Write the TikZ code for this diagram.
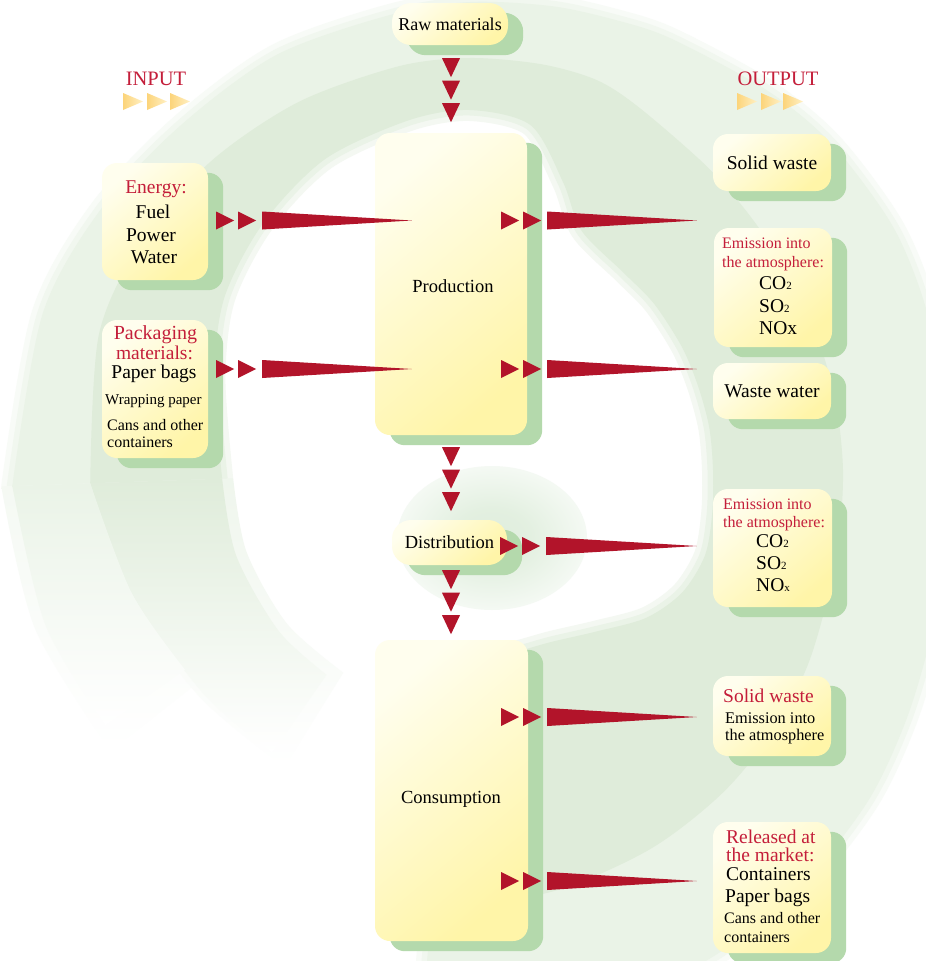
\documentclass[tikz,border=0pt]{standalone}
\usepackage{fontspec}
\setmainfont{Liberation Serif}
\usetikzlibrary{calc}
\definecolor{laneI}{RGB}{223,236,218}
\definecolor{laneO}{RGB}{234,243,231}
\definecolor{sgreen}{RGB}{180,217,172}
\definecolor{ylight}{RGB}{255,254,238}
\definecolor{ydark}{RGB}{255,245,168}
\definecolor{ared}{RGB}{178,20,42}
\definecolor{tred}{RGB}{196,30,58}
\definecolor{triA}{RGB}{252,212,122}
\definecolor{triB}{RGB}{255,240,196}
\pgfdeclarelayer{bg}
\pgfdeclarelayer{shad}
\pgfsetlayers{bg,shad,main}
\pgfdeclareradialshading{blob}{\pgfpoint{0bp}{0bp}}{rgb(0bp)=(0.875,0.93,0.865); rgb(10bp)=(0.89,0.94,0.88); rgb(34bp)=(1,1,1); rgb(50bp)=(1,1,1)}
\newcommand\shadowbox[2]{\begin{pgfonlayer}{shad}\fill[sgreen, rounded corners=#2] ([shift={(15,10)}]#1.south west) rectangle ([shift={(15,10)}]#1.north east);\end{pgfonlayer}}
\newcommand\redflow[2]{%
  \fill[ared] (#1) ++(0,-9) -- ++(18,9) -- ++(-18,9) -- cycle;
  \fill[ared] ([xshift=22pt]#1) ++(0,-9) -- ++(18,9) -- ++(-18,9) -- cycle;
  \fill[ared] ([shift={(46,-9)}]#1) -- (#2) -- ([shift={(46,9)}]#1) -- cycle;}
\newcommand\downtri[1]{%
  \foreach \k in {0,22.5,45} {\fill[ared] ([shift={(-9,\k)}]#1) -- ++(18,0) -- ++(-9,19) -- cycle;}}
\begin{document}
\begin{tikzpicture}[x=1pt,y=-1pt,
  box/.style={rectangle, rounded corners=15pt, inner sep=0pt, top color=ylight, bottom color=ydark, shading angle=40},
  pill/.style={box, rounded corners=19pt},
  tb/.style={inner sep=0pt, anchor=base, font=\fontsize{19.5}{23}\selectfont},
  tbw/.style={tb, anchor=base west},
  ts/.style={inner sep=0pt, anchor=base, font=\fontsize{16}{18}\selectfont},
  tsw/.style={ts, anchor=base west},
  tm/.style={inner sep=0pt, anchor=base, font=\fontsize{18.5}{22}\selectfont},
  rt/.style={text=tred},
  laneOpath/.style={insert path={plot[smooth] coordinates {(-182:380) (-160:395) (-145:400) (-130:403) (-115:406) (-100:410) (-90:412) (-80:412) (-72:410) (-65:400) (-52:385) (-42:378) (-30:375) (-20:372) (-10:372) (0:373) (10:375) (20:380) (30:390) (40:400) (52:410) (65:420) (80:430) (95:430)}
  -- plot[smooth] coordinates {(95:550) (80:550) (65:545) (52:532) (40:518) (30:503) (20:490) (10:480) (0:475) (-10:478) (-20:484) (-30:488) (-42:487) (-52:482) (-65:476) (-72:473) (-80:471) (-90:468) (-100:462) (-115:458) (-130:450) (-145:452) (-160:455) (-182:458)} -- cycle}},
  laneIpath/.style={insert path={plot[smooth] coordinates {(-182:248) (-160:272) (-145:300) (-130:322) (-115:343) (-100:355) (-90:360) (-80:350) (-72:302) (-65:264) (-52:250) (-42:248) (-30:245) (-20:243) (-10:243) (0:243) (10:246) (20:250) (30:245) (40:230) (52:205) (65:190) (80:188) (95:192)}
  -- plot[smooth] coordinates {(95:430) (80:430) (65:420) (52:410) (40:400) (30:390) (20:380) (10:375) (0:373) (-10:372) (-20:372) (-30:375) (-42:378) (-52:385) (-65:400) (-72:410) (-80:412) (-90:412) (-100:410) (-115:406) (-130:403) (-145:400) (-160:395) (-182:380)} -- cycle}}]
\useasboundingbox (0,0) rectangle (926,961);
% ---------- background spiral ----------
\begin{pgfonlayer}{bg}
\fill[white] (0,0) rectangle (926,961);
\begin{scope}
\clip (0,0) rectangle (926,961);
\begin{scope}
\clip (0,0) rectangle (926,488) (330,0) rectangle (926,961);
\begin{scope}[shift={(470,470)}]
% soft halos
\draw[laneO!35!white, line width=22pt, line join=round] [laneOpath];
\draw[laneO!65!white, line width=11pt, line join=round] [laneOpath];
\draw[laneI!35!white, line width=22pt, line join=round] [laneIpath];
\draw[laneI!65!white, line width=11pt, line join=round] [laneIpath];
\end{scope}
\end{scope}
\begin{scope}[shift={(470,470)}]
% soft halos of the fading tails
\shade[top color=laneO!50!white, bottom color=white] plot[smooth] coordinates {(-182:375) (-200:355) (-218:343)}
  -- plot[smooth] coordinates {(-218:456) (-200:463) (-182:469)} -- cycle;
\shade[top color=laneI!50!white, middle color=laneI!25!white, bottom color=white] plot[smooth] coordinates {(-182:237) (-200:238) (-220:239) (-238:239)}
  -- plot[smooth] coordinates {(-238:350) (-220:353) (-200:365) (-182:385)} -- cycle;
% lanes
\fill[laneO] [laneOpath];
\fill[laneI] [laneIpath];
% fading tails at lower left
\shade[top color=laneI, middle color=laneI!50!white, bottom color=white] plot[smooth] coordinates {(-182:248) (-200:249) (-220:250) (-235:250)}
  -- plot[smooth] coordinates {(-235:345) (-220:348) (-200:360) (-182:380)} -- cycle;
\shade[top color=laneO, bottom color=white] plot[smooth] coordinates {(-182:380) (-200:360) (-215:348)}
  -- plot[smooth] coordinates {(-215:445) (-200:452) (-182:458)} -- cycle;
\end{scope}
\shade[shading=blob] (492,538) ellipse [x radius=95, y radius=72];
\end{scope}
\end{pgfonlayer}
% ---------- boxes ----------
\node[pill, minimum width=116pt, minimum height=42pt, font=\fontsize{18}{21}\selectfont] (raw) at (450,24) {Raw materials};
\node[box, minimum width=152pt, minimum height=302pt] (prod) at (451,284) {};
\node[box, minimum width=106pt, minimum height=117pt] (energy) at (155,221.5) {};
\node[box, minimum width=106pt, minimum height=138pt] (pack) at (155,389) {};
\node[pill, minimum width=115pt, minimum height=45pt, font=\fontsize{18.5}{22}\selectfont] (dist) at (449.5,542.5) {Distribution};
\node[box, minimum width=153pt, minimum height=301pt] (cons) at (451.5,790.5) {};
\node[box, minimum width=118pt, minimum height=57pt, font=\fontsize{19.5}{23}\selectfont] (sw1) at (772,162.5) {Solid waste};
\node[box, minimum width=118pt, minimum height=119pt] (em1) at (773,287.5) {};
\node[box, minimum width=118pt, minimum height=56pt, font=\fontsize{19.5}{23}\selectfont] (ww) at (772,391) {Waste water};
\node[box, minimum width=119pt, minimum height=118pt] (em2) at (772.5,548) {};
\node[box, minimum width=118pt, minimum height=80pt] (sw2) at (772,716) {};
\node[box, minimum width=118pt, minimum height=131pt] (rel) at (772,887.5) {};
\shadowbox{raw}{19pt}
\shadowbox{dist}{19pt}
\foreach \n in {prod,energy,pack,cons,sw1,em1,ww,em2,sw2,rel} {\shadowbox{\n}{15pt}}
% ---------- headings ----------
\node[tb, rt, font=\fontsize{20.5}{24}\selectfont] (inL) at (156,85) {INPUT};
\node[tb, rt, font=\fontsize{20.5}{24}\selectfont] (outL) at (778,85) {OUTPUT};
\coordinate (inTri) at (123,93);
\coordinate (outTri) at (737,93);
\foreach \k in {0,24,47} {\shade[left color=triA, right color=triB] ([shift={(\k,0)}]inTri) -- ++(20,8.5) -- ++(-20,8.5) -- cycle;}
\foreach \k in {0,24,46} {\shade[left color=triA, right color=triB] ([shift={(\k,0)}]outTri) -- ++(20,8.5) -- ++(-20,8.5) -- cycle;}
% ---------- texts ----------
\node[tm] (prodT) at (453,292) {Production};
\node[tm] (consT) at (451,803) {Consumption};
\node[tb, rt] (enT1) at (156,193) {Energy:};
\node[tb] (enT2) at (153,218) {Fuel};
\node[tb] (enT3) at (151,241) {Power};
\node[tb] (enT4) at (154,263) {Water};
\node[tb, rt, font=\fontsize{20}{23}\selectfont] (paT1) at (155.5,339.5) {Packaging};
\node[tb, rt] (paT2) at (154.5,359) {materials:};
\node[tb] (paT3) at (154,378.5) {Paper bags};
\node[tsw, font=\fontsize{15}{18}\selectfont] (paT4) at (105,404) {Wrapping paper};
\node[tsw] (paT5) at (107,430) {Cans and other};
\node[tsw] (paT6) at (107,447) {containers};
\node[tsw, rt] (e1T1) at (722,248) {Emission into};
\node[tsw, rt] (e1T2) at (722,267) {the atmosphere:};
\node[tbw] (e1T3) at (759,289) {CO\raisebox{-0.5pt}{\fontsize{11}{11}\selectfont 2}};
\node[tbw] (e1T4) at (759,312) {SO\raisebox{-0.5pt}{\fontsize{11}{11}\selectfont 2}};
\node[tbw] (e1T5) at (759,334) {NOx};
\node[tsw, rt] (e2T1) at (723,509) {Emission into};
\node[tsw, rt] (e2T2) at (723,527) {the atmosphere:};
\node[tbw] (e2T3) at (756,547) {CO\raisebox{-0.5pt}{\fontsize{11}{11}\selectfont 2}};
\node[tbw] (e2T4) at (756,569) {SO\raisebox{-0.5pt}{\fontsize{11}{11}\selectfont 2}};
\node[tbw] (e2T5) at (756,591) {NO\raisebox{-0.5pt}{\fontsize{11}{11}\selectfont x}};
\node[tbw, rt] (s2T1) at (723,702) {Solid waste};
\node[tsw, font=\fontsize{16.3}{18}\selectfont] (s2T2) at (725,723) {Emission into};
\node[tsw, font=\fontsize{16.3}{18}\selectfont] (s2T3) at (725,740) {the atmosphere};
\node[tbw, rt] (rlT1) at (726,843) {Released at};
\node[tbw, rt] (rlT2) at (726,861) {the market:};
\node[tbw] (rlT3) at (726,880) {Containers};
\node[tbw] (rlT4) at (725,902) {Paper bags};
\node[tsw] (rlT5) at (724,923) {Cans and other};
\node[tsw] (rlT6) at (724,942) {containers};
% ---------- connectors ----------
\coordinate (d1) at ([shift={(1,13)}]raw.south);
\coordinate (d2) at ([shift={(0,12)}]prod.south);
\coordinate (d3) at ([shift={(1.5,5)}]dist.south);
\downtri{d1}
\downtri{d2}
\downtri{d3}
\coordinate (eS) at ([shift={(8,-1)}]energy.east);
\coordinate (eT) at ($(prod.west |- eS)+(37,0)$);
\coordinate (pS) at ([shift={(8,-20)}]pack.east);
\coordinate (pT) at ($(prod.west |- pS)+(37,0)$);
\coordinate (o1S) at ($(prod.east |- eS)+(-26,0)$);
\coordinate (o1T) at ($(em1.west |- eS)+(-17,0)$);
\coordinate (o2S) at ($(prod.east |- pS)+(-26,0)$);
\coordinate (o2T) at ($(ww.west |- pS)+(-16,0)$);
\coordinate (o3S) at ([shift={(-7,3.5)}]dist.east);
\coordinate (o3T) at ($(em2.west |- o3S)+(-16,0)$);
\coordinate (o4S) at ($(cons.east)+(-27,-73.5)$);
\coordinate (o4T) at ($(sw2.west |- o4S)+(-16,0)$);
\coordinate (o5S) at ($(cons.east)+(-27,90.5)$);
\coordinate (o5T) at ($(rel.west |- o5S)+(-16,0)$);
\redflow{eS}{eT}
\redflow{pS}{pT}
\redflow{o1S}{o1T}
\redflow{o2S}{o2T}
\redflow{o3S}{o3T}
\redflow{o4S}{o4T}
\redflow{o5S}{o5T}
\end{tikzpicture}
\end{document}
